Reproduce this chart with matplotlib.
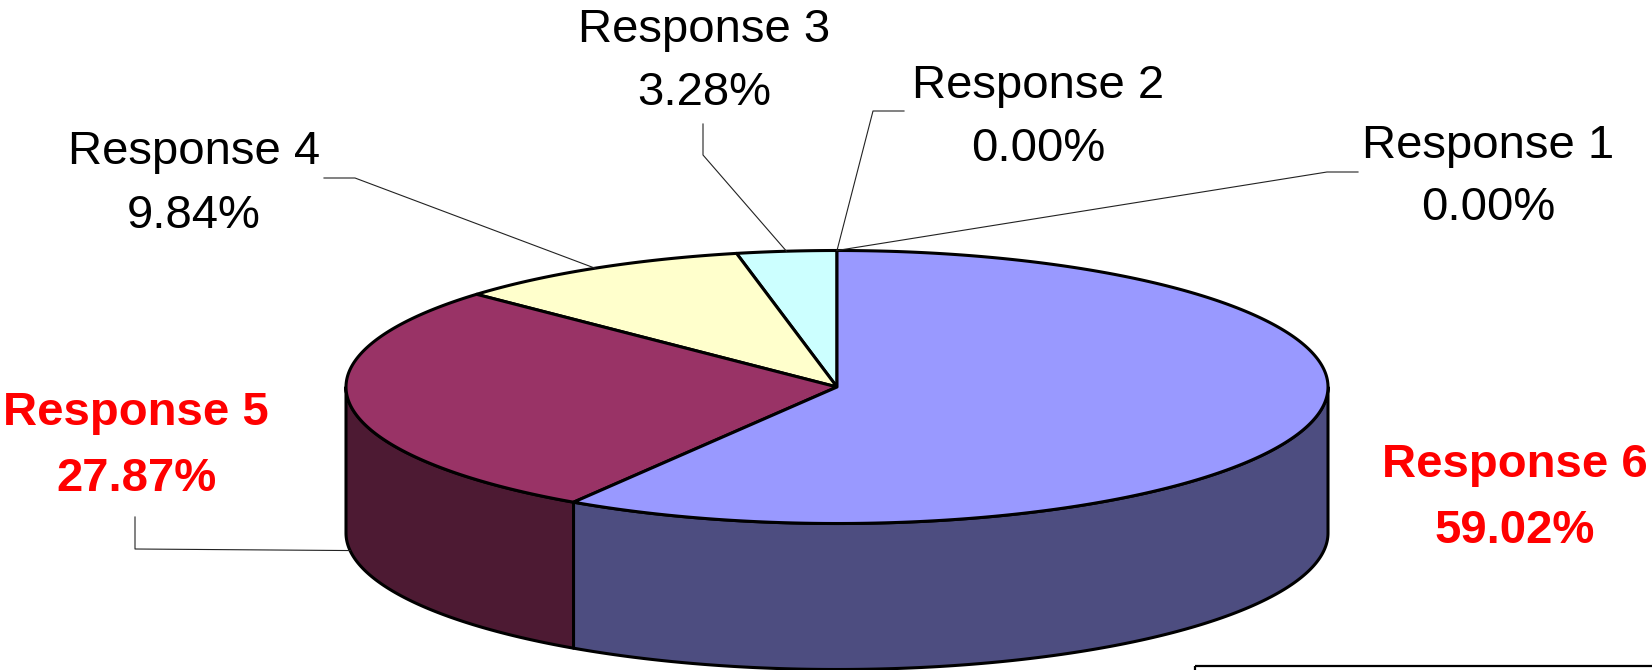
import numpy as np
import matplotlib
matplotlib.use("Agg")
import matplotlib.pyplot as plt
from matplotlib.patches import Polygon, Rectangle
from matplotlib.colors import to_rgb

# ---- data ----
categories = ["Response 1", "Response 2", "Response 3", "Response 4", "Response 5", "Response 6"]
values = [0.00, 0.00, 3.28, 9.84, 27.87, 59.02]
top_colors = ["#FF8080", "#660066", "#CCFFFF", "#FFFFCC", "#993366", "#9999FF"]
highlight = [False, False, False, False, True, True]

# ---- layout (pixel coordinates) ----
W, H = 1652, 670
CX, CY, RX, RY, DEPTH = 837.0, 387.0, 491.0, 136.5, 146.0
# label: centre x, baseline of line 1, baseline of line 2, leader elbow points (outer -> inner)
label_layout = [
    (1488, 158, 220, [(1358, 172), (1327, 172)]),
    (1038, 98, 161, [(904, 111), (873, 111)]),
    (704, 42, 105, [(703, 124), (703, 155)]),
    (194, 164, 228, [(324, 178), (355, 178)]),
    (136, 425, 491, [(135, 517), (135, 549)]),
    (1515, 477, 543, None),
]

fig = plt.figure(figsize=(W / 100, H / 100), dpi=100)
ax = fig.add_axes([0, 0, 1, 1])
ax.set_xlim(0, W)
ax.set_ylim(H, 0)
ax.axis("off")

def pt(theta_deg, dz=0.0):
    t = np.radians(theta_deg)
    return CX - RX * np.sin(t), CY - RY * np.cos(t) + dz

total = sum(values)
bounds = np.concatenate([[0], np.cumsum(values) / total * 360.0])
LW = 2.2

# side walls (front half: 90..270 deg)
for i, v in enumerate(values):
    a, b = bounds[i], bounds[i + 1]
    lo, hi = max(a, 90.0), min(b, 270.0)
    if hi <= lo:
        continue
    th = np.linspace(lo, hi, 200)
    topx, topy = pt(th)
    botx, boty = pt(th[::-1], DEPTH)
    poly = np.column_stack([np.concatenate([topx, botx]), np.concatenate([topy, boty])])
    side = tuple(c * 0.5 for c in to_rgb(top_colors[i]))
    ax.add_patch(Polygon(poly, closed=True, facecolor=side, edgecolor="black", lw=LW, joinstyle="round", zorder=2))

# top faces
for i, v in enumerate(values):
    a, b = bounds[i], bounds[i + 1]
    if b - a <= 0:
        continue
    th = np.linspace(a, b, max(int((b - a) * 2), 4))
    ex, ey = pt(th)
    poly = np.column_stack([np.concatenate([[CX], ex]), np.concatenate([[CY], ey])])
    ax.add_patch(Polygon(poly, closed=True, facecolor=top_colors[i], edgecolor="black", lw=LW, joinstyle="round", zorder=3))

# labels and leader lines
for i, (cat, v) in enumerate(zip(categories, values)):
    xc, b1, b2, elbow = label_layout[i]
    mid = (bounds[i] + bounds[i + 1]) / 2.0
    if elbow is not None:
        dz = DEPTH if np.cos(np.radians(mid)) < 0 else 0.0
        ax_, ay_ = pt(mid, dz)
        xs = [p[0] for p in elbow] + [ax_]
        ys = [p[1] for p in elbow] + [ay_]
        ax.plot(xs, ys, color="#222222", lw=0.8, zorder=4)
    if highlight[i]:
        kw = dict(color="#FF0000", fontweight="bold")
    else:
        kw = dict(color="black", fontweight="normal")
    ax.text(xc, b1, cat, ha="center", va="baseline", fontsize=34, family="Liberation Sans", zorder=5, **kw)
    ax.text(xc, b2, f"{v:.2f}%", ha="center", va="baseline", fontsize=34, family="Liberation Sans", zorder=5, **kw)

# partially visible box at bottom right
ax.add_patch(Rectangle((1195, 666), 600, 100, facecolor="none", edgecolor="black", lw=1.6, zorder=1))

fig.savefig("out.png", dpi=100, facecolor="white")
